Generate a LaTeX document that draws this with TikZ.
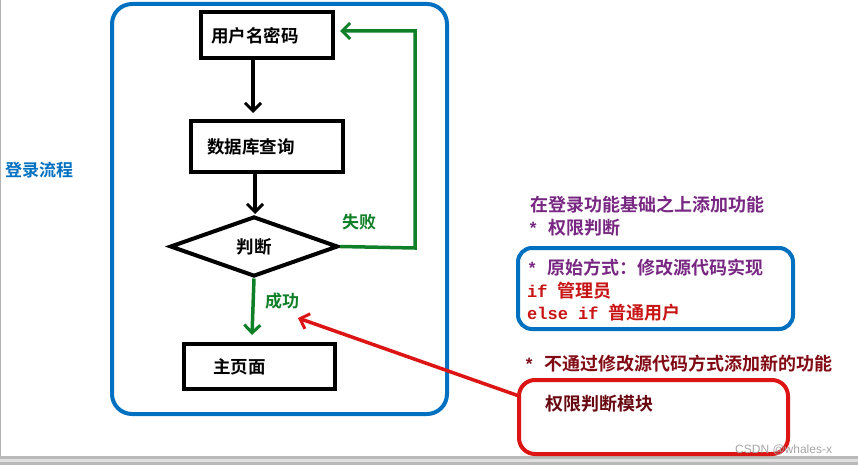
\documentclass[tikz,border=0pt]{standalone}
\usepackage{fontspec}
\usetikzlibrary{arrows.meta,shapes.geometric}
\setmainfont{Liberation Mono}
\newfontfamily\cjk{Noto Sans CJK SC}
\newfontfamily\cjkb{Noto Sans CJK SC Bold}
\newfontfamily\monob{Liberation Mono Bold}
\newfontfamily\wmfont{Liberation Sans}
\newcommand{\mono}[1]{{\monob\fontsize{17}{17}\selectfont #1}}
\definecolor{frameblue}{RGB}{0,112,192}
\definecolor{flowgreen}{RGB}{16,128,40}
\definecolor{notepurple}{RGB}{120,40,130}
\definecolor{codered}{RGB}{200,20,20}
\definecolor{darkred}{RGB}{130,10,20}
\definecolor{linered}{RGB}{220,20,20}
\tikzset{
  flowbox/.style={draw=black, line width=4pt, minimum height=46pt, inner ysep=0pt, align=left, font=\cjkb\fontsize{17.5}{17.5}\selectfont},
  tip/.style={-{Straight Barb[length=8pt,width=16pt,line width=3pt]}},
  blackflow/.style={black, line width=3.5pt, tip},
  greenflow/.style={flowgreen, line width=3.5pt},
  lbl/.style={inner sep=0pt, anchor=west},
  note/.style={lbl, font=\cjkb\fontsize{18}{18}\selectfont},
}
\begin{document}
\begin{tikzpicture}[x=1pt,y=-1pt]
\useasboundingbox (0,0) rectangle (858,465);
\fill[white] (0,0) rectangle (858,465);
% screenshot edges
\draw[gray!60, line width=1pt] (0.5,0) -- (0.5,457);
\fill[gray!55] (0,456) rectangle (858,465);
\fill[gray!25] (0,459) rectangle (858,462);
% big frame
\draw[frameblue, line width=4pt, rounded corners=20pt] (112,4) rectangle (447,414);
% nodes
\node[flowbox, inner xsep=10pt, text width=112pt] (user) at (267,35.5) {用户名密码};
\node[flowbox, inner xsep=16pt, text width=120pt, minimum height=51pt] (db) at (267,146.5) {数据库查询};
\node[draw=black, line width=4pt, diamond, aspect=2.8, minimum width=168pt, minimum height=60pt, inner sep=0pt, font=\cjkb\fontsize{17.5}{17.5}\selectfont] (judge) at (254,246.5) {判断\hspace{22pt}};
\node[flowbox, inner xsep=29pt, text width=93pt, minimum height=45pt] (home) at (259.5,366.5) {主页面};
% black flow arrows
\draw[blackflow] (user.south -| 253,0) -- (253,113);
\draw[blackflow] (db.south -| 255,0) -- (255,214);
% success
\draw[greenflow, tip] (judge.south) -- (252,335);
\node[lbl, text=flowgreen, font=\cjkb\fontsize{17}{17}\selectfont] (ok) at (265,301) {成功};
% failure
\coordinate (fr) at (415,248);
\coordinate (ft) at (415,31);
\coordinate (fe) at (340,31);
\draw[greenflow, tip, line join=miter] (judge.east) -- (fr) -- (ft) -- (fe);
\node[lbl, text=flowgreen, font=\cjkb\fontsize{17}{17}\selectfont] (fail) at (342,222) {失败};
% left title
\node[lbl, text=frameblue, font=\cjkb\fontsize{17}{17}\selectfont] (title) at (5,170) {登录流程};
% right notes
\node[note, text=notepurple] (n1) at (530,205) {在登录功能基础之上添加功能};
\node[note, text=notepurple] (n2) at (528,228) {\mono{*\ }权限判断};
\draw[frameblue, line width=4pt, rounded corners=14pt] (518,248) rectangle (793,329);
\node[note, text=notepurple] (n3) at (527,268) {\mono{*\ }原始方式：修改源代码实现};
\node[note, text=codered] (n4) at (527,291) {\mono{if\ }管理员};
\node[note, text=codered] (n5) at (527,313) {\mono{else if\ }普通用户};
\node[note, text=darkred] (n6) at (524,364) {\mono{*\ }不通过修改源代码方式添加新的功能};
\draw[linered, line width=4pt, rounded corners=16pt] (519,380) rectangle (788,454);
\coordinate (rl) at (519,396);
\node[note, text=darkred!80!black] (mod) at (545,404) {权限判断模块};
\draw[linered, line width=3.5pt, tip] (rl) -- (298,318);
% watermark
\node[lbl, text=gray!70, font=\wmfont\fontsize{12}{12}\selectfont] (wm) at (735,450) {CSDN @whales-x};
\end{tikzpicture}
\end{document}
